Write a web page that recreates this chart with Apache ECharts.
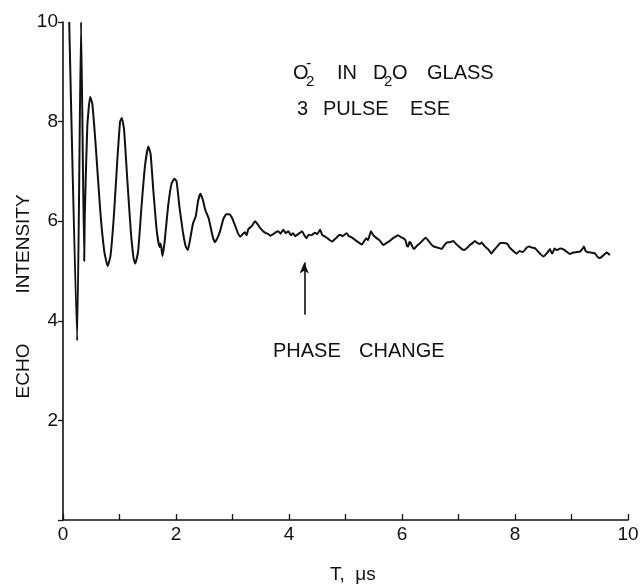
<!DOCTYPE html>
<html>
<head>
<meta charset="utf-8">
<script src="https://cdn.jsdelivr.net/npm/echarts@6/dist/echarts.min.js"></script>
<style>
html,body{margin:0;padding:0;background:#fff;}
#chart{width:642px;height:584px;}
</style>
</head>
<body>
<div id="chart"></div>
<script>
// Time axis (microseconds)
var timeUs = [
0.11,0.25,0.32,0.375,0.385,0.43,0.48,0.52,0.58,0.66,0.73,0.79,0.84,0.90,0.96,1.01,1.04,1.08,1.14,1.20,
1.25,1.28,1.33,1.39,1.45,1.51,1.55,1.60,1.66,1.71,1.73,1.76,1.80,1.86,1.92,1.97,2.01,2.06,2.12,2.17,
2.21,2.26,2.30,2.35,2.39,2.43,2.47,2.52,2.58,2.63,2.66,2.69,2.74,2.78,2.84,2.89,2.94,2.99,3.05,3.10,
3.14,3.18,3.22,3.25,3.28,3.34,3.40,3.45,3.50,3.56,3.62,3.67,3.72,3.77,3.81,3.85,3.90,3.94,3.99,4.03,
4.07,4.11,4.16,4.20,4.23,4.27,4.31,4.35,4.40,4.46,4.50,4.55,4.59,4.64,4.70,4.76,4.81,4.85,4.90,4.95,
5.02,5.06,5.10,5.14,5.20,5.25,5.29,5.33,5.37,5.40,5.45,5.49,5.55,5.60,5.64,5.67,5.72,5.78,5.82,5.87,
5.93,5.98,6.02,6.06,6.09,6.11,6.13,6.15,6.18,6.21,6.26,6.32,6.37,6.42,6.46,6.50,6.55,6.60,6.66,6.70,
6.75,6.79,6.85,6.91,6.96,7.02,7.06,7.10,7.15,7.20,7.25,7.29,7.34,7.38,7.41,7.46,7.52,7.55,7.58,7.63,
7.69,7.74,7.80,7.86,7.90,7.96,8.00,8.03,8.08,8.14,8.20,8.25,8.30,8.35,8.40,8.45,8.50,8.55,8.60,8.62,
8.64,8.66,8.70,8.74,8.80,8.85,8.90,8.97,9.03,9.09,9.15,9.19,9.22,9.25,9.28,9.34,9.41,9.45,9.49,9.53,
9.58,9.62,9.65,9.68
];
// Echo intensity
var echoIntensity = [
10.0,3.6,10.0,5.2,6.1,7.9,8.5,8.35,7.5,6.2,5.4,5.1,5.3,6.1,7.2,8.0,8.07,7.85,6.8,5.8,
5.25,5.15,5.4,6.3,7.1,7.5,7.35,6.6,5.8,5.48,5.55,5.3,5.6,6.3,6.75,6.85,6.8,6.3,5.8,5.5,
5.42,5.7,5.95,6.1,6.4,6.55,6.45,6.22,6.05,5.79,5.65,5.58,5.68,5.8,6.05,6.14,6.14,6.07,5.9,5.75,
5.69,5.74,5.78,5.72,5.84,5.9,6.0,5.93,5.85,5.78,5.75,5.71,5.74,5.78,5.8,5.75,5.83,5.76,5.8,5.72,
5.76,5.7,5.74,5.77,5.8,5.72,5.66,5.73,5.72,5.77,5.74,5.83,5.72,5.69,5.64,5.59,5.64,5.68,5.73,5.7,
5.76,5.7,5.68,5.65,5.6,5.56,5.53,5.6,5.66,5.62,5.8,5.72,5.66,5.62,5.56,5.52,5.56,5.6,5.64,5.68,
5.72,5.68,5.66,5.62,5.5,5.49,5.58,5.57,5.5,5.44,5.5,5.56,5.62,5.67,5.62,5.56,5.5,5.48,5.46,5.44,
5.52,5.57,5.58,5.6,5.54,5.48,5.44,5.42,5.46,5.52,5.56,5.6,5.56,5.54,5.57,5.5,5.44,5.4,5.35,5.42,
5.5,5.56,5.56,5.55,5.48,5.41,5.37,5.35,5.4,5.38,5.46,5.49,5.47,5.46,5.4,5.34,5.29,5.34,5.41,5.44,
5.38,5.35,5.45,5.42,5.45,5.44,5.4,5.34,5.37,5.38,5.39,5.44,5.49,5.4,5.38,5.37,5.36,5.3,5.26,5.28,
5.33,5.37,5.35,5.32
];
var xTicks = [0,2,4,6,8,10];
var yTicks = [2,4,6,8,10];
// Phase-change arrow: time, from intensity, to intensity
var arrowTime = 4.27;
var arrowFrom = 4.12;
var arrowTo = 5.17;

var FONT = "'Liberation Sans', Arial, sans-serif";
var INK = '#111';

var seriesData = timeUs.map(function (t, i) { return [t, echoIntensity[i]]; });

var chart = echarts.init(document.getElementById('chart'), null, {renderer: 'canvas'});

function txt(x, y, s, size, opts) {
  opts = opts || {};
  return {
    type: 'text', x: x, y: y, rotation: opts.rotation || 0, silent: true,
    style: {
      text: s, fill: INK, font: (size || 20) + 'px ' + FONT,
      textAlign: opts.align || 'left', textVerticalAlign: 'middle'
    }
  };
}

var option = {
  backgroundColor: '#fff',
  animation: false,
  grid: {left: 63, right: 14, top: 22, bottom: 64, containLabel: false},
  xAxis: {
    type: 'value', min: 0, max: 10, interval: 1,
    axisLine: {show: true, lineStyle: {color: INK, width: 1.6}},
    axisTick: {show: true, inside: true, length: 6, lineStyle: {color: INK, width: 1.3}},
    axisLabel: {
      color: INK, fontSize: 19, fontFamily: FONT, margin: 5,
      formatter: function (v) { return xTicks.indexOf(v) >= 0 ? String(v) : ''; }
    },
    splitLine: {show: false}
  },
  yAxis: {
    type: 'value', min: 0, max: 10, interval: 2,
    axisLine: {show: true, lineStyle: {color: INK, width: 1.6}},
    axisTick: {show: true, inside: false, length: 5, lineStyle: {color: INK, width: 1.3}},
    axisLabel: {
      color: INK, fontSize: 19, fontFamily: FONT, margin: 5,
      formatter: function (v) { return yTicks.indexOf(v) >= 0 ? String(v) : ''; }
    },
    splitLine: {show: false}
  },
  series: [{
    type: 'line',
    data: seriesData,
    showSymbol: false,
    symbol: 'none',
    smooth: 0.15,
    clip: true,
    lineStyle: {color: INK, width: 2},
    markLine: {
      silent: true,
      symbol: ['none', 'arrow'],
      symbolSize: [7, 11],
      label: {show: false},
      lineStyle: {color: INK, width: 1.6, type: 'solid'},
      data: [[{coord: [arrowTime, arrowFrom]}, {coord: [arrowTime, arrowTo]}]]
    }
  }],
  graphic: [
    // O2- IN D2O GLASS
    txt(293, 73, 'O', 20),
    txt(306, 82, '2', 15),
    txt(306, 64, '-', 16),
    txt(337, 73, 'IN', 20),
    txt(373, 73, 'D', 20),
    txt(384, 82, '2', 15),
    txt(392, 73, 'O', 20),
    txt(427, 73, 'GLASS', 20),
    // 3 PULSE ESE
    txt(297, 109, '3', 20),
    txt(323, 109, 'PULSE', 20),
    txt(410, 109, 'ESE', 20),
    // PHASE CHANGE
    txt(273, 351, 'PHASE', 20),
    txt(359, 351, 'CHANGE', 20),
    // axis titles
    txt(330, 575, 'T,  \u03bcs', 19),
    txt(24, 371, 'ECHO', 19, {rotation: Math.PI / 2, align: 'center'}),
    txt(24, 244, 'INTENSITY', 19, {rotation: Math.PI / 2, align: 'center'})
  ]
};
chart.setOption(option);
</script>
</body>
</html>
